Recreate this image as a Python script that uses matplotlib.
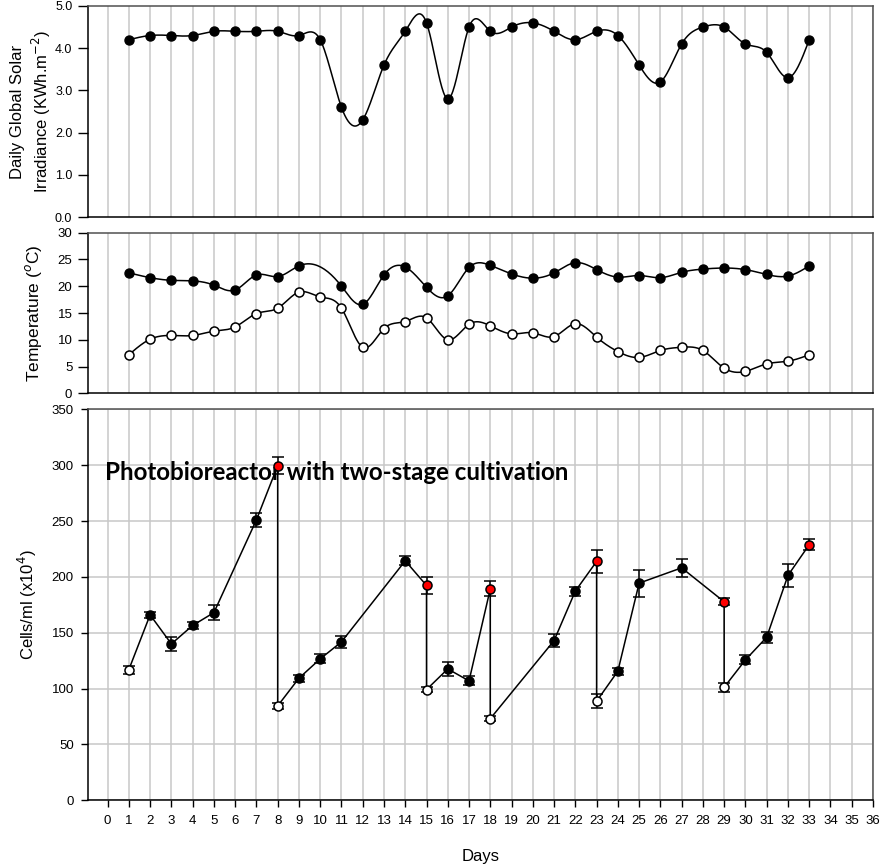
import numpy as np
import matplotlib
matplotlib.use("Agg")
import matplotlib.pyplot as plt

plt.rcParams['font.family'] = ['Liberation Sans', 'DejaVu Sans']

# ---- data ----
days = np.arange(1, 34)

irradiance = [4.2, 4.3, 4.3, 4.3, 4.4, 4.4, 4.4, 4.4, 4.3, 4.2,
              2.6, 2.3, 3.6, 4.4, 4.6, 2.8, 4.5, 4.4, 4.5, 4.6,
              4.4, 4.2, 4.4, 4.3, 3.6, 3.2, 4.1, 4.5, 4.5, 4.1,
              3.9, 3.3, 4.2]

# max temperature has no value on day 10
tmax_days = [1, 2, 3, 4, 5, 6, 7, 8, 9, 11, 12, 13, 14, 15, 16, 17, 18,
             19, 20, 21, 22, 23, 24, 25, 26, 27, 28, 29, 30, 31, 32, 33]
tmax = [22.5, 21.6, 21.1, 21.0, 20.2, 19.3, 22.1, 21.8, 23.8, 20.0,
        16.6, 22.1, 23.6, 19.8, 18.2, 23.5, 23.9, 22.3, 21.5, 22.5,
        24.4, 23.1, 21.7, 22.0, 21.6, 22.6, 23.2, 23.4, 23.1, 22.2,
        21.9, 23.8]

tmin = [7.2, 10.1, 10.8, 10.8, 11.6, 12.4, 14.9, 15.9, 18.9, 18.0,
        15.9, 8.6, 12.1, 13.4, 14.1, 10.0, 12.9, 12.6, 11.1, 11.3,
        10.6, 13.0, 10.5, 7.8, 6.7, 8.0, 8.6, 8.0, 4.7, 4.1,
        5.5, 6.0, 7.2]

# cell counts in sampling order (harvest days appear twice: before / after dilution)
cell_days = [1, 2, 3, 4, 5, 7, 8, 8, 9, 10, 11, 14, 15, 15, 16, 17, 18, 18,
             21, 22, 23, 23, 24, 25, 27, 29, 29, 30, 31, 32, 33]
cells = [117, 166, 140, 156.5, 168, 251, 299.5, 84.5, 109.3, 126.6, 141.8,
         214.4, 192.3, 99.1, 117.6, 106.9, 189.3, 73.1, 143, 187.3, 213.8,
         88.7, 115.6, 194.4, 208.1, 177.7, 101.2, 125.7, 146, 201.3, 228.8]
cells_err = [3.5, 3, 6, 3, 6.5, 6, 7.5, 3, 3, 4, 5.2, 4, 8, 2.5, 6.6, 4,
             6.6, 2.5, 5.5, 4, 9.9, 6.4, 3, 12, 8, 3, 4, 4, 5, 10, 5]
# marker type: 'o' open (start / after dilution), 'h' harvest (red), 'f' filled
cell_kind = ['o', 'f', 'f', 'f', 'f', 'f', 'h', 'o', 'f', 'f', 'f', 'f', 'h', 'o',
             'f', 'f', 'h', 'o', 'f', 'f', 'h', 'o', 'f', 'f', 'f', 'h', 'o',
             'f', 'f', 'f', 'h']

title_text = "Photobioreactor with two-stage cultivation"


def smooth(x, y, n=25):
    """natural cubic spline through the points, for the curved lines"""
    x = np.asarray(x, float)
    y = np.asarray(y, float)
    h = np.diff(x)
    m = len(x)
    A = np.zeros((m, m))
    b = np.zeros(m)
    A[0, 0] = A[-1, -1] = 1
    for i in range(1, m - 1):
        A[i, i - 1] = h[i - 1]
        A[i, i] = 2 * (h[i - 1] + h[i])
        A[i, i + 1] = h[i]
        b[i] = 6 * ((y[i + 1] - y[i]) / h[i] - (y[i] - y[i - 1]) / h[i - 1])
    M = np.linalg.solve(A, b)
    xs, ys = [], []
    for i in range(m - 1):
        t = np.linspace(x[i], x[i + 1], n, endpoint=False)
        a = x[i + 1] - t
        c = t - x[i]
        s = (M[i] * a**3 + M[i + 1] * c**3) / (6 * h[i]) \
            + (y[i] / h[i] - M[i] * h[i] / 6) * a \
            + (y[i + 1] / h[i] - M[i + 1] * h[i] / 6) * c
        xs.append(t)
        ys.append(s)
    xs.append([x[-1]])
    ys.append([y[-1]])
    return np.concatenate(xs), np.concatenate(ys)


fig = plt.figure(figsize=(8.82, 8.65), dpi=100)
left, width = 0.0998, 0.890
ax1 = fig.add_axes([left, 0.7491, width, 0.2440])
ax2 = fig.add_axes([left, 0.5453, width, 0.1857])
ax3 = fig.add_axes([left, 0.0748, width, 0.4520])

grid_col = '#c8c8c8'
for ax in (ax1, ax2, ax3):
    ax.set_xlim(-0.92, 36)
    ax.set_xticks(np.arange(0, 37))
    ax.grid(axis='x', color=grid_col, lw=1.1)
    ax.set_axisbelow(True)
    for s in ('top', 'right'):
        ax.spines[s].set_color('#505050')
    for s in ('left', 'bottom'):
        ax.spines[s].set_color('black')
    for s in ax.spines.values():
        s.set_linewidth(1.1)

# ---- irradiance ----
sx, sy = smooth(days, irradiance)
ax1.plot(sx, sy, color='black', lw=1.1)
ax1.plot(days, irradiance, 'o', color='black', ms=6.5)
ax1.set_ylim(0, 5)
ax1.set_yticks(np.arange(0, 5.1, 1.0))
ax1.set_yticklabels(['%.1f' % v for v in np.arange(0, 5.1, 1.0)])
ax1.tick_params(axis='x', length=0, labelbottom=False)
ax1.tick_params(axis='y', labelsize=9, length=7, width=1, pad=4.3)
ax1.set_ylabel("Daily Global Solar\nIrradiance (KWh.m$^{-2}$)", fontsize=12,
               linespacing=1.25)
ax1.yaxis.set_label_coords(-0.045, 0.5)

# ---- temperature ----
sx, sy = smooth(tmax_days, tmax)
ax2.plot(sx, sy, color='black', lw=1.1)
ax2.plot(tmax_days, tmax, 'o', color='black', ms=6.5)
sx, sy = smooth(days, tmin)
ax2.plot(sx, sy, color='black', lw=1.1)
ax2.plot(days, tmin, 'o', mfc='white', mec='black', mew=1.1, ms=6.5)
ax2.set_ylim(0, 30)
ax2.set_yticks(np.arange(0, 31, 5))
ax2.tick_params(axis='x', length=0, labelbottom=False)
ax2.tick_params(axis='y', labelsize=9.5, length=7, width=1, pad=4.3)
ax2.set_ylabel("Temperature ($^{o}$C)", fontsize=12.5)
ax2.yaxis.set_label_coords(-0.056, 0.5)

# ---- cell counts ----
ax3.grid(axis='y', color=grid_col, lw=1.1)
ax3.errorbar(cell_days, cells, yerr=cells_err, fmt='none', ecolor='black',
             elinewidth=1.1, capsize=4.5, capthick=1.1, zorder=3)
ax3.plot(cell_days, cells, color='black', lw=1.1, zorder=3)
cd = np.array(cell_days)
cv = np.array(cells)
kind = np.array(cell_kind)
fill = {'o': 'white', 'f': 'black', 'h': '#ff0000'}
for k in ('o', 'f', 'h'):
    sel = kind == k
    ax3.plot(cd[sel], cv[sel], 'o', mfc=fill[k], mec='black', mew=1.1, ms=6.5,
             zorder=4)
ax3.set_ylim(0, 350)
ax3.set_yticks(np.arange(0, 351, 50))
ax3.tick_params(axis='y', labelsize=9.5, length=4.8, width=1, pad=5.5)
ax3.tick_params(axis='x', labelsize=9.5, length=4.8, width=1, pad=5.5)
ax3.set_ylabel("Cells/ml (x10$^4$)", fontsize=12)
ax3.yaxis.set_label_coords(-0.062, 0.5)
ax3.set_xlabel("Days", fontsize=12, labelpad=16)
ax3.text(-0.1, 286.5, title_text, fontsize=17.4, fontweight='bold',
         family=['Lato', 'DejaVu Sans'], ha='left', va='baseline', zorder=2)

fig.savefig("out.png", dpi=100)
